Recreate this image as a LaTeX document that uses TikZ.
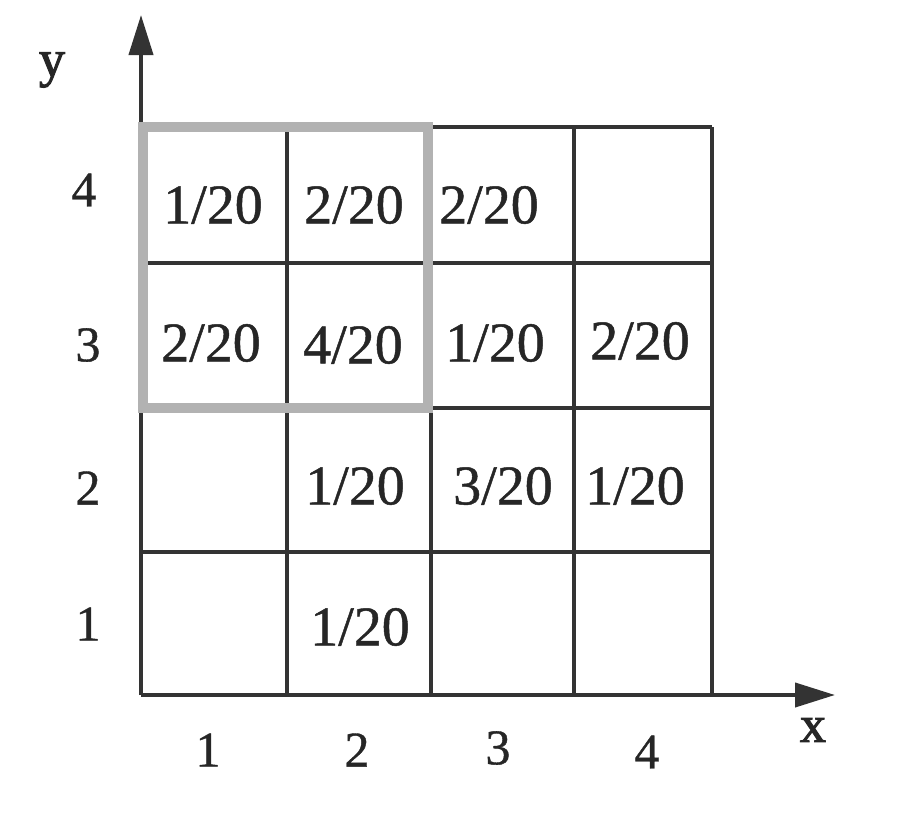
\documentclass[tikz,border=0pt]{standalone}
\usepackage{fontspec}
\setmainfont{Liberation Serif}
\newfontfamily\heavyserif[FakeBold=0.8]{Liberation Serif}
\newfontfamily\heavierserif[FakeBold=2]{Liberation Serif}
\usetikzlibrary{arrows.meta}
\begin{document}
\begin{tikzpicture}[x=1pt,y=-1pt,
  gridline/.style={line width=4pt,draw=black!80},
  axisline/.style={line width=4pt,draw=black!80,-{Triangle[length=40pt,width=24pt]}},
  hilite/.style={line width=10pt,draw=black!30},
  celltxt/.style={font=\heavyserif\fontsize{56}{60}\selectfont,text=black!85,inner sep=0pt},
  axtxt/.style={font=\heavyserif\fontsize{50}{54}\selectfont,text=black!85,inner sep=0pt},
  vartxt/.style={font=\heavierserif\fontsize{52}{56}\selectfont,text=black!85,inner sep=0pt}]
\useasboundingbox[fill=white] (0,0) rectangle (914,817);
% grid
\foreach \x in {287,431,574,712} \draw[gridline] (\x,127) -- (\x,695);
\foreach \y in {127,263,408,552} \draw[gridline] (141,\y) -- (712,\y);
% axes
\coordinate (O) at (141,695);
\coordinate (ytip) at (141,15);
\coordinate (xtip) at (835,695);
\draw[axisline] (O) -- (ytip);
\draw[axisline] (O) -- (xtip);
% highlight
\draw[hilite] (143,127) rectangle (428,408);
% cell texts
\node[celltxt] (c14) at (213,205) {1/20};
\node[celltxt] (c24) at (354,205) {2/20};
\node[celltxt] (c34) at (489,205) {2/20};
\node[celltxt] (c13) at (211,343) {2/20};
\node[celltxt] (c23) at (353,345) {4/20};
\node[celltxt] (c33) at (495,343) {1/20};
\node[celltxt] (c43) at (640,341) {2/20};
\node[celltxt] (c22) at (355,486) {1/20};
\node[celltxt] (c32) at (503,486) {3/20};
\node[celltxt] (c42) at (635,486) {1/20};
\node[celltxt] (c21) at (360,627) {1/20};
% axis labels
\node[axtxt] (x1) at (208,750) {1};
\node[axtxt] (x2) at (357,750) {2};
\node[axtxt] (x3) at (498,748) {3};
\node[axtxt] (x4) at (647,752) {4};
\node[axtxt] (y4) at (84,190) {4};
\node[axtxt] (y3) at (88,345) {3};
\node[axtxt] (y2) at (88,488) {2};
\node[axtxt] (y1) at (88,624) {1};
\node[vartxt] (ylab) at (52,70) {y};
\node[vartxt] (xlab) at (813,730) {x};
\end{tikzpicture}
\end{document}
